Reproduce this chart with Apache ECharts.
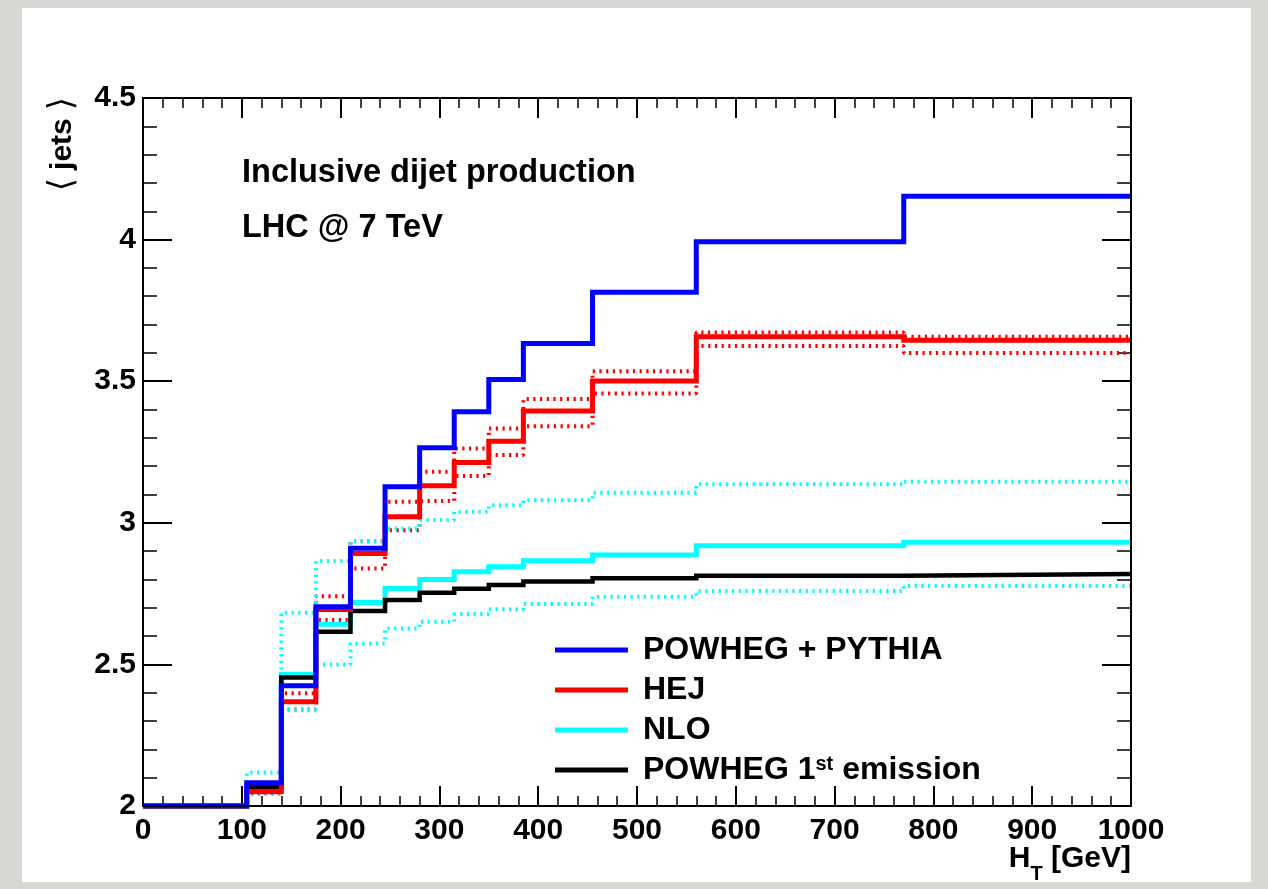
<!DOCTYPE html>
<html>
<head>
<meta charset="utf-8">
<script src="https://cdn.jsdelivr.net/npm/echarts@6/dist/echarts.min.js"></script>
<style>
  html, body { margin: 0; padding: 0; background: #d7d7d4; }
  #chart { width: 1268px; height: 889px; }
</style>
</head>
<body>
<div id="chart"></div>
<script>
// Bin edges in H_T [GeV]
const binEdges = [0, 105, 140, 175, 210, 245, 280, 315, 350, 385, 455, 560, 770, 1000];
// <jets> per bin
const powhegPythia = [2.0, 2.082, 2.425, 2.704, 2.910, 3.127, 3.265, 3.392, 3.506, 3.633, 3.814, 3.992, 4.153];
const hej          = [2.0, 2.050, 2.368, 2.694, 2.892, 3.021, 3.131, 3.213, 3.288, 3.395, 3.501, 3.657, 3.645];
const hejUp        = [2.0, 2.062, 2.398, 2.741, 2.935, 3.074, 3.180, 3.262, 3.333, 3.437, 3.535, 3.672, 3.657];
const hejDown      = [2.0, 2.045, 2.341, 2.657, 2.839, 2.974, 3.077, 3.165, 3.239, 3.341, 3.457, 3.624, 3.600];
const nlo          = [2.0, 2.068, 2.465, 2.642, 2.719, 2.768, 2.800, 2.827, 2.845, 2.866, 2.886, 2.919, 2.931];
const nloUp        = [2.0, 2.118, 2.682, 2.865, 2.935, 2.980, 3.010, 3.039, 3.062, 3.080, 3.106, 3.136, 3.145];
const nloDown      = [2.0, 2.042, 2.341, 2.500, 2.574, 2.627, 2.651, 2.678, 2.695, 2.713, 2.739, 2.759, 2.777];
const powheg1st    = [2.0, 2.066, 2.454, 2.615, 2.689, 2.727, 2.753, 2.767, 2.780, 2.793, 2.804, 2.813, 2.819];
const xTicks = [0, 100, 200, 300, 400, 500, 600, 700, 800, 900, 1000];
const yTicks = [2, 2.5, 3, 3.5, 4, 4.5];
const legendNames = ['POWHEG + PYTHIA', 'HEJ', 'NLO', 'POWHEG 1st emission'];

const FONT = 'Liberation Sans, Arial, Helvetica, sans-serif';

function hist(vals) {
  const pts = vals.map((v, i) => [binEdges[i], v]);
  pts.push([binEdges[binEdges.length - 1], vals[vals.length - 1]]);
  return pts;
}

function stepSeries(name, vals, color, width, dashed, z) {
  return {
    name: name,
    type: 'line',
    step: 'end',
    data: hist(vals),
    showSymbol: false,
    symbol: 'none',
    clip: false,
    color: color,
    z: z,
    lineStyle: dashed
      ? { color: color, width: 4, type: [2.2, 4.5], cap: 'butt' }
      : { color: color, width: width, cap: 'butt', join: 'miter' },
    emphasis: { disabled: true },
    animation: false
  };
}

const tickLabel = { fontSize: 30, fontWeight: 'bold', color: '#000', fontFamily: FONT };

function xAxisDef(pos, showLabel) {
  return {
    type: 'value', min: 0, max: 1000, interval: 100, position: pos, gridIndex: 0,
    axisLine: { show: true, onZero: false, lineStyle: { color: '#000', width: 2 } },
    axisTick: { show: true, inside: true, length: 20, lineStyle: { color: '#000', width: 2 } },
    minorTick: { show: true, splitNumber: 5, length: 10, lineStyle: { color: '#000', width: 1.5 } },
    splitLine: { show: false },
    axisLabel: Object.assign({ show: showLabel, margin: 10,
      formatter: v => (xTicks.indexOf(v) >= 0 ? String(v) : '') }, tickLabel)
  };
}
function yAxisDef(pos, showLabel) {
  return {
    type: 'value', min: 2, max: 4.5, interval: 0.5, position: pos, gridIndex: 0,
    axisLine: { show: true, onZero: false, lineStyle: { color: '#000', width: 2 } },
    axisTick: { show: true, inside: true, length: 29, lineStyle: { color: '#000', width: 2 } },
    minorTick: { show: true, splitNumber: 5, length: 14, lineStyle: { color: '#000', width: 1.5 } },
    splitLine: { show: false },
    axisLabel: Object.assign({ show: showLabel, margin: 7,
      formatter: v => { const t = yTicks.find(k => Math.abs(k - v) < 1e-6); return t === undefined ? '' : String(t); } }, tickLabel)
  };
}

const chart = echarts.init(document.getElementById('chart'), null, { renderer: 'canvas' });
chart.setOption({
  backgroundColor: '#d7d7d4',
  animation: false,
  grid: { left: 143, top: 98, width: 988, height: 708, show: false, containLabel: false },
  xAxis: [xAxisDef('bottom', true), xAxisDef('top', false)],
  yAxis: [yAxisDef('left', true), yAxisDef('right', false)],
  legend: {
    data: legendNames.map(n => ({ name: n, icon: 'rect' })),
    orient: 'vertical', left: 555, top: 634, padding: 0,
    itemWidth: 73, itemHeight: 5, itemGap: 8,
    selectedMode: false,
    formatter: n => n.replace('1st', '1{sup|st}'),
    textStyle: {
      fontSize: 32, fontWeight: 'bold', color: '#000', fontFamily: FONT, lineHeight: 32,
      padding: [0, 0, 0, 10],
      rich: {
        sup: { fontSize: 20, fontWeight: 'bold', color: '#000', fontFamily: FONT, lineHeight: 20,
               verticalAlign: 'top', padding: [0, 0, 16, 0] }
      }
    }
  },
  title: [
    { text: 'Inclusive dijet production', left: 242, top: 157, padding: 0,
      textStyle: { fontSize: 32.5, fontWeight: 'bold', color: '#000', fontFamily: FONT } },
    { text: 'LHC @ 7 TeV', left: 242, top: 212, padding: 0,
      textStyle: { fontSize: 32.5, fontWeight: 'bold', color: '#000', fontFamily: FONT } },
    { text: '{h|H}{s|T}{h| [GeV]}', right: 137, top: 844, padding: 0,
      textStyle: {
        rich: {
          h: { fontSize: 30, fontWeight: 'bold', color: '#000', fontFamily: FONT, lineHeight: 30, verticalAlign: 'top' },
          s: { fontSize: 20, fontWeight: 'bold', color: '#000', fontFamily: FONT, lineHeight: 40, verticalAlign: 'bottom' }
        }
      } }
  ],
  graphic: [
    { type: 'rect', z: -100, silent: true, shape: { x: 22, y: 8, width: 1229, height: 874 }, style: { fill: '#ffffff' } },
    { type: 'rect', z: 100, silent: true, shape: { x: 143, y: 98, width: 988, height: 708 }, style: { fill: 'none', stroke: '#000', lineWidth: 2 } },
    { type: 'text', x: 63, y: 97, rotation: Math.PI / 2, silent: true,
      style: {
        text: '{a|\u27E8}{g|}{b|jets}{g|}{a|\u27E9}',
        align: 'right', verticalAlign: 'middle',
        rich: {
          a: { fontSize: 34, fontWeight: 'normal', fill: '#000', fontFamily: 'DejaVu Sans, ' + FONT },
          g: { width: 8 },
          b: { fontSize: 30, fontWeight: 'bold', fill: '#000', fontFamily: FONT }
        }
      } }
  ],
  series: [
    stepSeries('HEJ up', hejUp, '#ff0000', 3.5, true, 2),
    stepSeries('HEJ down', hejDown, '#ff0000', 3.5, true, 2),
    stepSeries('NLO up', nloUp, '#00ffff', 3.5, true, 3),
    stepSeries('NLO down', nloDown, '#00ffff', 3.5, true, 3),
    stepSeries('NLO', nlo, '#00ffff', 5, false, 4),
    stepSeries('POWHEG 1st emission', powheg1st, '#000000', 4.5, false, 5),
    stepSeries('HEJ', hej, '#ff0000', 5, false, 6),
    stepSeries('POWHEG + PYTHIA', powhegPythia, '#0000ff', 5, false, 7)
  ]
});
</script>
</body>
</html>
